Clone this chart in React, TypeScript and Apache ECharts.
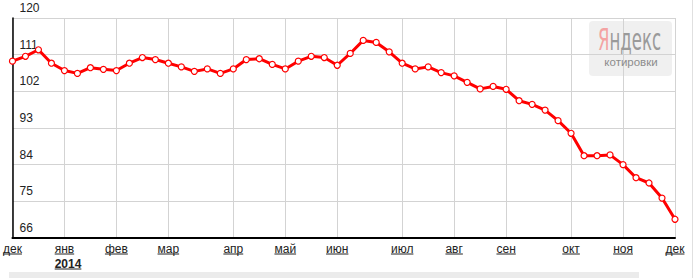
import React, { useEffect, useRef } from "react";
import * as echarts from "echarts";

const monthLabels = ["дек", "янв", "фев", "мар", "апр", "май", "июн", "июл", "авг", "сен", "окт", "ноя", "дек"];
const monthStartIndex = [0, 4, 8, 12, 17, 21, 25, 30, 34, 38, 43, 47, 51];
const yearLabel = "2014";
const yearMonthPos = 1;
const weekValues = [
  109.4, 110.6, 112.2, 108.9, 107.1, 106.4, 107.8, 107.4, 107.1, 108.9,
  110.3, 109.8, 108.9, 108.0, 106.9, 107.5, 106.4, 107.5, 109.8, 110.0,
  108.6, 107.5, 109.4, 110.6, 110.3, 108.4, 111.3, 114.5, 114.0, 111.7,
  108.9, 107.5, 108.0, 106.6, 105.8, 104.2, 102.6, 103.2, 102.5, 99.7,
  98.8, 97.4, 94.8, 91.7, 86.2, 86.2, 86.4, 84.0, 80.8, 79.5,
  75.8, 70.6,
];
const yMin = 66;
const yMax = 120;
const yStep = 9;

const LABEL_FONT = '"Liberation Sans", Arial, sans-serif';

function measure(text: string, font: string): number {
  const c = document.createElement("canvas");
  const ctx = c.getContext("2d");
  if (!ctx) return text.length * 7;
  ctx.font = font;
  return ctx.measureText(text).width;
}

export default function App() {
  const ref = useRef<HTMLDivElement>(null);
  useEffect(() => {
    if (!ref.current) return;
    const chart = echarts.init(ref.current, undefined, { renderer: "svg" });
    const categories = weekValues.map((_, i) => {
      const k = monthStartIndex.indexOf(i);
      return k >= 0 ? monthLabels[k] : "";
    });
    const isMonthStart = (i: number) => monthStartIndex.indexOf(i) >= 0;

    const brandFamily = '"Liberation Sans Narrow", "DejaVu Sans Condensed", sans-serif';
    const brandSize = 30;
    const brandFont = brandSize + "px " + brandFamily;
    const brandW = measure("Яндекс", brandFont);
    const brandScale = 63 / (brandW || 63);
    const yaW = measure("Я", brandFont) * brandScale;

    chart.setOption({
      animation: false,
      grid: { left: 9, right: 22, top: 18, bottom: 40, containLabel: false },
      xAxis: {
        type: "category",
        data: categories,
        boundaryGap: false,
        axisLine: { show: true, lineStyle: { color: "#000", width: 2 } },
        axisTick: { show: false },
        axisLabel: {
          interval: 0,
          margin: 5,
          color: "#222",
          fontSize: 12,
          fontFamily: LABEL_FONT,
        },
        splitLine: {
          show: true,
          interval: (i: number) => isMonthStart(i),
          lineStyle: { color: "#d3d3d3", width: 1 },
        },
      },
      yAxis: {
        type: "value",
        min: yMin,
        max: yMax,
        interval: yStep,
        axisLine: { show: true, lineStyle: { color: "#000", width: 1.5 } },
        axisTick: { show: false },
        axisLabel: {
          inside: true,
          margin: 7,
          verticalAlign: "bottom",
          padding: [0, 0, 4, 0],
          color: "#222",
          fontSize: 12,
          fontFamily: LABEL_FONT,
        },
        splitLine: { show: true, lineStyle: { color: "#d3d3d3", width: 1 } },
      },
      series: [
        {
          type: "line",
          data: weekValues,
          symbol: "circle",
          symbolSize: 6,
          showAllSymbol: true,
          lineStyle: { color: "#ff0000", width: 3 },
          itemStyle: { color: "#ffffff", borderColor: "#ff0000", borderWidth: 1.2 },
          z: 3,
        },
        {
          type: "custom",
          silent: true,
          clip: false,
          z: 5,
          data: monthStartIndex.map((idx, i) => [idx, yMin, i]),
          encode: { x: 0, y: 1 },
          renderItem: (params: any, api: any) => {
            const idx = api.value(0);
            const li = api.value(2);
            const p = api.coord([idx, yMin]);
            const label = monthLabels[li];
            const w = measure(label, "12px " + LABEL_FONT);
            const children: any[] = [
              {
                type: "line",
                shape: { x1: p[0] - w / 2, y1: p[1] + 16, x2: p[0] + w / 2, y2: p[1] + 16 },
                style: { stroke: "#222", lineWidth: 1 },
              },
            ];
            if (li === yearMonthPos) {
              const yw = measure(yearLabel, "bold 12px " + LABEL_FONT);
              const left = p[0] - w / 2;
              children.push({
                type: "text",
                style: {
                  text: yearLabel,
                  x: left,
                  y: p[1] + 25.5,
                  align: "left",
                  verticalAlign: "middle",
                  fill: "#222",
                  fontSize: 12,
                  fontWeight: "bold",
                  fontFamily: LABEL_FONT,
                },
              });
              children.push({
                type: "line",
                shape: { x1: left, y1: p[1] + 31, x2: left + yw, y2: p[1] + 31 },
                style: { stroke: "#222", lineWidth: 1 },
              });
            }
            return { type: "group", children };
          },
        },
      ],
      graphic: [
        {
          type: "rect",
          z: -1,
          shape: { x: 589, y: 21, width: 83, height: 55, r: 4 },
          style: { fill: "rgba(235,235,235,0.75)" },
        },
        {
          type: "text",
          x: 598,
          y: 39.5,
          scaleX: brandScale,
          z: 1,
          style: {
            text: "Я",
            align: "left",
            verticalAlign: "middle",
            fill: "#f4a3a3",
            fontSize: brandSize,
            fontFamily: brandFamily,
          },
        },
        {
          type: "text",
          x: 598 + yaW,
          y: 39.5,
          scaleX: brandScale,
          z: 1,
          style: {
            text: "ндекс",
            align: "left",
            verticalAlign: "middle",
            fill: "#9a9a9a",
            fontSize: brandSize,
            fontFamily: brandFamily,
          },
        },
        {
          type: "text",
          x: 631,
          y: 62,
          z: 1,
          style: {
            text: "котировки",
            align: "center",
            verticalAlign: "middle",
            fill: "#8c8c8c",
            fontSize: 11.5,
            fontFamily: LABEL_FONT,
          },
        },
        {
          type: "rect",
          shape: { x: 9, y: 272, width: 630, height: 6 },
          style: { fill: "#ebebeb" },
        },
        {
          type: "rect",
          shape: { x: 692, y: 0, width: 1, height: 278 },
          style: { fill: "#e0e0e0" },
        },
      ],
    });
    return () => chart.dispose();
  }, []);
  return (
    <div
      ref={ref}
      style={{ position: "fixed", left: 0, top: 0, width: 697, height: 278, background: "#fff" }}
    />
  );
}
